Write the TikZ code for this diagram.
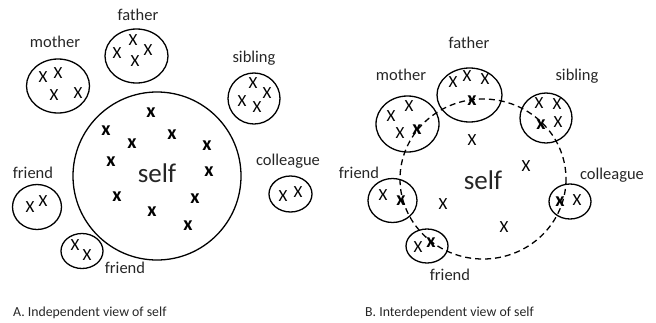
\documentclass[tikz,border=0pt]{standalone}
\usepackage{fontspec}
\setmainfont{Carlito}
\usetikzlibrary{shapes.geometric,positioning}

\begin{document}
\begin{tikzpicture}[x=1pt, y=-1pt,
  grp/.style={ellipse, draw, line width=1.3pt, inner sep=0pt},
  lbl/.style={font=\fontsize{16.5}{18}\selectfont, inner sep=0pt, text=black!85},
  mk/.style={font=\fontsize{17}{18}\selectfont, inner sep=0pt},
  bmk/.style={font=\fontsize{20}{20}\bfseries\selectfont, inner sep=0pt},
  captxt/.style={font=\fontsize{13.8}{15}\selectfont, inner sep=0pt, anchor=west, text=black!85}]
\useasboundingbox (0,0) rectangle (656,322);

% A. independent view
\node[circle, draw, line width=1.3pt, minimum size=168pt] (selfA) at (157,176) {};
\node[font=\fontsize{27}{28}\selectfont, text=black!85] (selfAt) at (157,173) {self};
\foreach \p [count=\i] in {(151,113),(106,131),(132,144),(172,135),(207,146),(111,162),
                           (209,172),(117,197),(195,199),(152,212),(188,226)}
  \node[bmk] (a\i) at \p {x};

\node[grp, minimum width=63pt, minimum height=54pt] (motherA) at (58,86) {};
\node[lbl] (motherAt) at (55,42) {mother};
\node[grp, minimum width=63pt, minimum height=54pt] (fatherA) at (136.5,56) {};
\node[lbl] (fatherAt) at (138,15) {father};
\node[grp, minimum width=52pt, minimum height=51pt] (siblingA) at (254,98.5) {};
\node[lbl] (siblingAt) at (254,58) {sibling};
\node[grp, minimum width=43pt, minimum height=36pt] (colleagueA) at (290.5,194) {};
\node[lbl] (colleagueAt) at (288,161) {colleague};
\node[grp, minimum width=49pt, minimum height=45pt] (friendA) at (37,207) {};
\node[lbl] (friendAt) at (33,173) {friend};
\node[grp, minimum width=42pt, minimum height=35pt] (friendB) at (82,251) {};
\node[lbl] (friendBt) at (125,268) {friend};
\foreach \p [count=\i] in {(43,77),(58,73),(54,95),(78,93),
                           (133,40),(117,53),(148,50),(135,61),
                           (253,83),(267,93),(242,101),(257,107),
                           (283,196),(298,192),(30,207),(43,201),(75,245),(87,255)}
  \node[mk] (ax\i) at \p {X};

% B. interdependent view
\node[font=\fontsize{27}{28}\selectfont, text=black!85] (selfBt) at (483,180) {self};
\node[grp, minimum width=65pt, minimum height=54pt] (fatherC) at (469.5,95) {};
\node[lbl] (fatherCt) at (469,43) {father};
\node[grp, minimum width=63pt, minimum height=56pt] (motherC) at (407.5,124) {};
\node[lbl] (motherCt) at (401,75) {mother};
\node[grp, minimum width=52pt, minimum height=50pt] (siblingC) at (546,118) {};
\node[lbl] (siblingCt) at (577,76) {sibling};
\node[grp, minimum width=42pt, minimum height=35pt] (colleagueC) at (570,201.5) {};
\node[lbl] (colleagueCt) at (612,175) {colleague};
\node[grp, minimum width=49pt, minimum height=44pt] (friendC) at (392.5,200.5) {};
\node[lbl] (friendCt) at (359,173) {friend};
\node[grp, minimum width=42pt, minimum height=34pt] (friendD) at (427,246) {};
\node[lbl] (friendDt) at (450,275) {friend};
\foreach \p [count=\i] in {(453,82),(467,76),(485,79),(409,106),(391,116),(400,133),
                           (539,103),(557,104),(558,122),(577,200),(383,195),(418,247),
                           (472,140),(526,166),(443,204),(504,227)}
  \node[mk] (bx\i) at \p {X};
\foreach \p [count=\i] in {(472,101),(417,130),(541,125),(560,202),(401,201),(431,243)}
  \node[bmk] (bb\i) at \p {x};
\draw[line width=1.3pt, dash pattern=on 6pt off 4pt] (483,179) ellipse [x radius=83, y radius=80];

\node[captxt] (capA) at (13,313) {A. Independent view of self};
\node[captxt] (capB) at (365,313) {B. Interdependent view of self};
\end{tikzpicture}
\end{document}
